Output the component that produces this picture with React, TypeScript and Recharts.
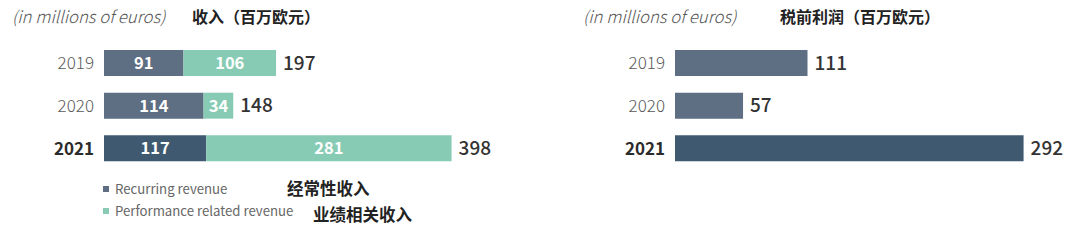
import { BarChart, Bar, XAxis, YAxis, LabelList, Cell } from 'recharts';

const years = ['2019', '2020', '2021'];
const recurring = [91, 114, 117];
const performance = [106, 34, 281];
const revenueTotal = [197, 148, 398];
const profit = [111, 57, 292];

const revenueData = years.map((y, i) => ({
    year: y,
    recurring: recurring[i],
    performance: performance[i],
    total: revenueTotal[i],
}));
const profitData = years.map((y, i) => ({ year: y, profit: profit[i] }));

const FONT = "'Noto Sans CJK SC', 'Source Sans Pro', Roboto, sans-serif";
const SLATE = '#5e6e83';
const SLATE_DARK = '#3f5a70';
const TEAL = '#88cbb4';

const YearTick = (props: any) => {
    const { x, y, payload } = props;
    const bold = payload.value === '2021';
    return (
        <text x={x} y={y} dy="0.36em" textAnchor="end" fontSize={17}
            fontWeight={bold ? 700 : 300} fill={bold ? '#2b2b2b' : '#5a5a5a'}>
            {payload.value}
        </text>
    );
};

const Txt = ({ left, top, size, weight = 400, color = '#222', italic = false, children }: any) => (
    <div style={{
        position: 'absolute', left, top, fontSize: size, fontWeight: weight, color,
        fontStyle: italic ? 'italic' : 'normal', lineHeight: 1, whiteSpace: 'nowrap',
    }}>{children}</div>
);

const Swatch = ({ left, top, color }: any) => (
    <div style={{ position: 'absolute', left, top, width: 6, height: 6, background: color }} />
);

export default function App() {
    return (
        <div style={{ position: 'absolute', left: 0, top: 0, width: 1080, height: 243, fontFamily: FONT, background: '#fff' }}>
            <Txt left={12} top={8} size={16.8} weight={300} color="#555" italic>(in millions of euros)</Txt>
            <Txt left={192} top={8} size={16} weight={700}>收入（百万欧元）</Txt>
            <Txt left={583} top={8} size={16.8} weight={300} color="#555" italic>(in millions of euros)</Txt>
            <Txt left={780} top={8} size={16} weight={700}>税前利润（百万欧元）</Txt>

            <div style={{ position: 'absolute', left: 0, top: 0 }}>
                <BarChart width={540} height={243} data={revenueData} layout="vertical"
                    margin={{ top: 42, right: 43, bottom: 73, left: 44 }}>
                    <XAxis type="number" domain={[0, 450]} hide />
                    <YAxis type="category" dataKey="year" width={60} axisLine={false}
                        tickLine={false} tickSize={0} tickMargin={10} tick={<YearTick />} />
                    <Bar dataKey="recurring" stackId="a" barSize={26} isAnimationActive={false}>
                        {revenueData.map((d) => (
                            <Cell key={d.year} fill={d.year === '2021' ? SLATE_DARK : SLATE} />
                        ))}
                        <LabelList dataKey="recurring" position="center" fill="#fff"
                            fontSize={16.5} fontWeight={600} />
                    </Bar>
                    <Bar dataKey="performance" stackId="a" barSize={26} fill={TEAL} isAnimationActive={false}>
                        <LabelList dataKey="performance" position="center" fill="#fff"
                            fontSize={16.5} fontWeight={600} />
                        <LabelList dataKey="total" position="right" offset={7} fill="#333"
                            fontSize={19} fontWeight={500} />
                    </Bar>
                </BarChart>
            </div>

            <div style={{ position: 'absolute', left: 540, top: 0 }}>
                <BarChart width={540} height={243} data={profitData} layout="vertical"
                    margin={{ top: 42, right: 23, bottom: 73, left: 75 }}>
                    <XAxis type="number" domain={[0, 320]} hide />
                    <YAxis type="category" dataKey="year" width={60} axisLine={false}
                        tickLine={false} tickSize={0} tickMargin={10} tick={<YearTick />} />
                    <Bar dataKey="profit" barSize={26} isAnimationActive={false}>
                        {profitData.map((d) => (
                            <Cell key={d.year} fill={d.year === '2021' ? SLATE_DARK : SLATE} />
                        ))}
                        <LabelList dataKey="profit" position="right" offset={7} fill="#333"
                            fontSize={19} fontWeight={500} />
                    </Bar>
                </BarChart>
            </div>

            <Swatch left={103} top={186} color={SLATE} />
            <Txt left={115} top={182} size={13.2} color="#666">Recurring revenue</Txt>
            <Swatch left={103} top={208} color={TEAL} />
            <Txt left={115} top={204} size={13.2} color="#666">Performance related revenue</Txt>
            <Txt left={287} top={180} size={16.5} weight={700}>经常性收入</Txt>
            <Txt left={313} top={206} size={16.5} weight={700}>业绩相关收入</Txt>
        </div>
    );
}
